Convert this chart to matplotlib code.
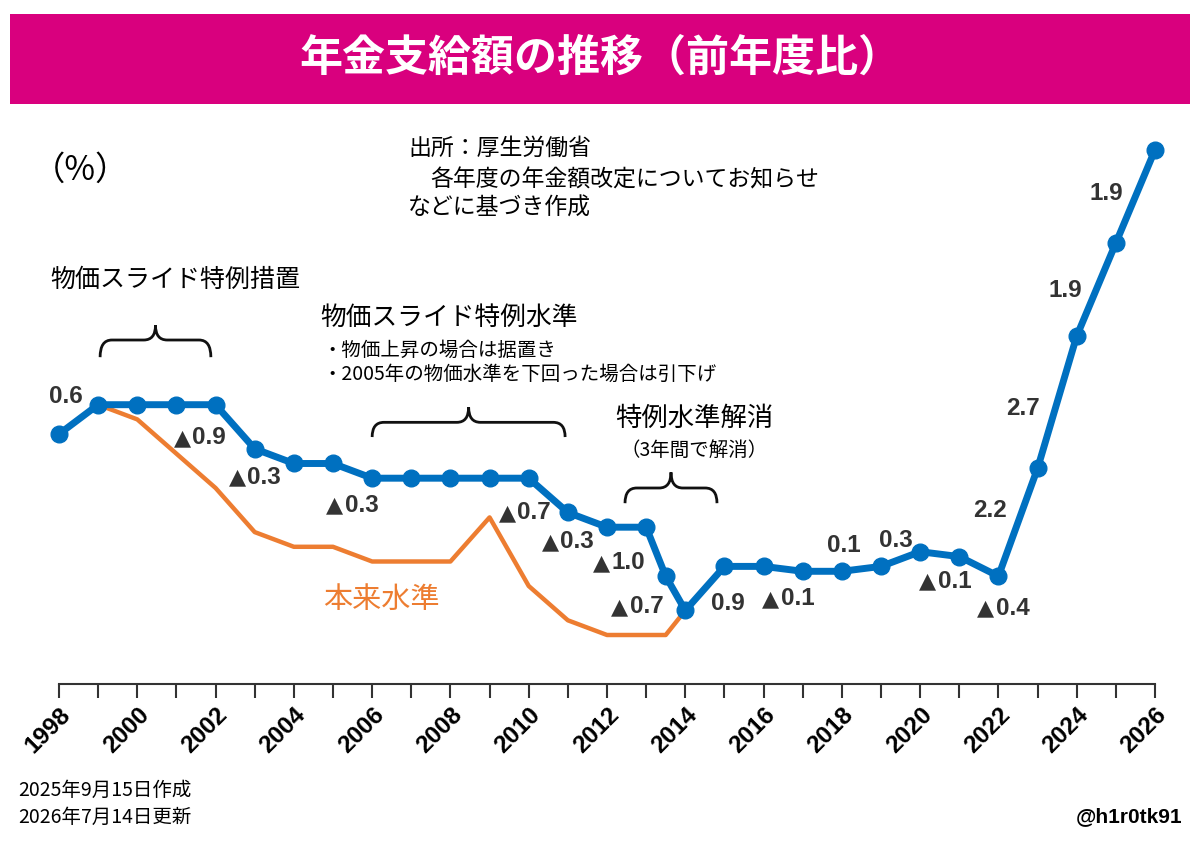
import numpy as np
import matplotlib.pyplot as plt
from matplotlib.path import Path
from matplotlib.patches import PathPatch, Rectangle
from matplotlib.offsetbox import TextArea, HPacker, AnnotationBbox

plt.rcParams['font.family'] = ['Noto Sans CJK JP', 'DejaVu Sans']

# pension level, cumulative % change from 1998
years = [1998, 1999, 2000, 2001, 2002, 2003, 2004, 2005, 2006, 2007, 2008,
         2009, 2010, 2011, 2012, 2013, 2013.5, 2014, 2015, 2016, 2017, 2018,
         2019, 2020, 2021, 2022, 2023, 2024, 2025, 2026]
actual = [0, 0.6, 0.6, 0.6, 0.6, -0.3, -0.6, -0.6, -0.9, -0.9, -0.9,
          -0.9, -0.9, -1.6, -1.9, -1.9, -2.9, -3.6, -2.7, -2.7, -2.8, -2.8,
          -2.7, -2.4, -2.5, -2.9, -0.7, 2.0, 3.9, 5.8]

orig_years = years[:18]
original = [0, 0.6, 0.3, -0.4, -1.1, -2.0, -2.3, -2.3, -2.6, -2.6, -2.6,
            -1.7, -3.1, -3.8, -4.1, -4.1, -4.1, -3.6]

# yearly change labels and where they sit (year, level)
change_labels = ['0.6', '▲0.9', '▲0.3', '▲0.3', '▲0.7', '▲0.3', '▲1.0', '▲0.7',
                 '0.9', '▲0.1', '0.1', '0.3', '▲0.1', '▲0.4', '2.2', '2.7',
                 '1.9', '1.9']
label_x = [1998.18, 2001.6, 2003.0, 2005.49, 2009.9, 2011.0, 2012.3, 2012.77,
           2015.09, 2016.63, 2018.05, 2019.38, 2020.64, 2022.12, 2021.79,
           2022.63, 2023.7, 2024.75]
label_y = [0.76, -0.07, -0.88, -1.45, -1.6, -2.2, -2.63, -3.52,
           -3.45, -3.36, -2.28, -2.17, -3.0, -3.55, -1.55,
           0.53, 2.94, 4.92]

blue = '#0070C0'
orange = '#ED7D31'
dark = '#333333'
num_font = ['Liberation Sans', 'DejaVu Sans']

W, H = 1200, 848
fig = plt.figure(figsize=(W / 100, H / 100), dpi=100)


def fx(x):
    return x / W


def fy(y):
    return 1 - y / H


# title banner
fig.add_artist(Rectangle((fx(10), fy(104)), fx(1180), 90 / H,
                         transform=fig.transFigure, color='#D9007E', lw=0))
fig.text(0.5, fy(58), '年金支給額の推移（前年度比）', ha='center', va='center',
         color='white', fontsize=31, fontweight='bold')

ax = fig.add_axes([fx(59), fy(684), 1096 / W, (684 - 120) / H])
ax.set_xlim(1998, 2026)
ax.set_ylim(-5.1, 6.41)

ax.plot(orig_years, original, color=orange, lw=3.2, zorder=2, clip_on=False)
ax.plot(years, actual, color=blue, lw=5, marker='o', ms=12, zorder=3,
        clip_on=False, solid_joinstyle='round')

for t, x, y in zip(change_labels, label_x, label_y):
    parts = []
    if t.startswith('▲'):
        parts.append(TextArea('▲', textprops=dict(fontsize=16, color=dark,
                                                  family='DejaVu Sans')))
        t = t[1:]
    parts.append(TextArea(t, textprops=dict(fontsize=17.5, fontweight='bold',
                                            color=dark, family=num_font)))
    box = HPacker(children=parts, pad=0, sep=1, align='baseline')
    ax.add_artist(AnnotationBbox(box, (x, y), frameon=False, pad=0,
                                 box_alignment=(0.5, 0.5), zorder=4,
                                 annotation_clip=False))


def brace(x0, x1, y_end, y_line, y_tip, r=0.3):
    xm = (x0 + x1) / 2
    verts = [(x0, y_end), (x0, y_line), (x0 + r, y_line),
             (xm - r, y_line),
             (xm, y_line), (xm, y_tip),
             (xm, y_line), (xm + r, y_line),
             (x1 - r, y_line),
             (x1, y_line), (x1, y_end)]
    codes = [Path.MOVETO, Path.CURVE3, Path.CURVE3, Path.LINETO,
             Path.CURVE3, Path.CURVE3, Path.CURVE3, Path.CURVE3,
             Path.LINETO, Path.CURVE3, Path.CURVE3]
    ax.add_patch(PathPatch(Path(verts, codes), fill=False, lw=2,
                           color='#111111', clip_on=False))


brace(1999.05, 2001.88, 1.57, 1.92, 2.22)
brace(2006.0, 2010.93, -0.06, 0.24, 0.55)
brace(2012.46, 2014.81, -1.41, -1.1, -0.78)

ax.spines[['top', 'left', 'right']].set_visible(False)
ax.spines['bottom'].set_linewidth(1.5)
ax.spines['bottom'].set_color(dark)
ax.set_yticks([])
ax.set_xticks(range(1998, 2027, 2))
ax.set_xticks(range(1998, 2027), minor=True)
ax.tick_params(axis='x', which='both', length=10, width=1.5, color=dark,
               direction='out')
ax.set_xticklabels([str(y) for y in range(1998, 2027, 2)], rotation=45,
                   ha='right', va='top', rotation_mode='anchor',
                   fontsize=17.5, fontweight='bold', family=num_font)
ax.patch.set_alpha(0)

# annotations
fig.text(fx(32), fy(170), '（%）', ha='left', va='center', fontsize=24)
fig.text(fx(408), fy(148), '出所：厚生労働省', ha='left', va='center', fontsize=16.5)
fig.text(fx(430), fy(180), '各年度の年金額改定についてお知らせ', ha='left',
         va='center', fontsize=16.5)
fig.text(fx(408), fy(208), 'などに基づき作成', ha='left', va='center', fontsize=16.5)
fig.text(fx(50), fy(280), '物価スライド特例措置', ha='left', va='center', fontsize=18)
fig.text(fx(320), fy(318), '物価スライド特例水準', ha='left', va='center', fontsize=18.5)
fig.text(fx(322), fy(350), '・物価上昇の場合は据置き', ha='left', va='center',
         fontsize=14)
fig.text(fx(322), fy(374), '・2005年の物価水準を下回った場合は引下げ', ha='left',
         va='center', fontsize=14)
fig.text(fx(615), fy(418), '特例水準解消', ha='left', va='center', fontsize=19)
fig.text(fx(620), fy(450), '（3年間で解消）', ha='left', va='center', fontsize=14)
fig.text(fx(323), fy(600), '本来水準', ha='left', va='center', fontsize=21,
         color=orange)

fig.text(fx(18), fy(790), '2025年9月15日作成', ha='left', va='center', fontsize=14)
fig.text(fx(18), fy(817), '2026年7月14日更新', ha='left', va='center', fontsize=14)
fig.text(fx(1182), fy(817), '@h1r0tk91', ha='right', va='center', fontsize=15,
         fontweight='bold', family=num_font)

fig.savefig('out.png', dpi=100)
